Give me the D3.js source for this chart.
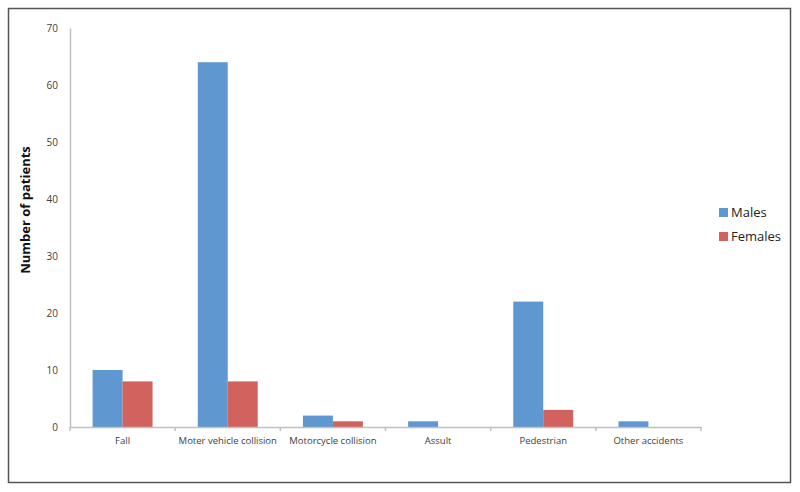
<!DOCTYPE html>
<html>
<head>
<meta charset="utf-8">
<script src="https://cdn.jsdelivr.net/npm/d3@7"></script>
<style>
  body { margin: 0; background: #fff; }
  text { font-family: "Open Sans", "DejaVu Sans", sans-serif; }
</style>
</head>
<body>
<div id="chart"></div>
<script>
var categories = ["Fall", "Moter vehicle collision", "Motorcycle collision", "Assult", "Pedestrian", "Other accidents"];
var series = ["Males", "Females"];
var males = [10, 64, 2, 1, 22, 1];
var females = [8, 8, 1, 0, 3, 0];
var yTicks = [0, 10, 20, 30, 40, 50, 60, 70];
var colors = ["#5f97d0", "#d2625e"];

var svgWidth = 800;
var svgHeight = 492;

var margin = { top: 28, right: 99, bottom: 65, left: 70 };
var width = svgWidth - margin.left - margin.right;
var height = svgHeight - margin.top - margin.bottom;

var svg = d3.select("#chart")
  .append("svg")
  .attr("width", svgWidth)
  .attr("height", svgHeight);

// outer frame
svg.append("rect")
  .attr("x", 8.5).attr("y", 8.5)
  .attr("width", 782).attr("height", 474)
  .attr("fill", "none")
  .attr("stroke", "#555")
  .attr("stroke-width", 1.5);

var chartGroup = svg.append("g")
  .attr("transform", `translate(${margin.left}, ${margin.top})`);

var rows = categories.map(function(c, i) {
  return { cat: c, values: [males[i], females[i]] };
});

var x0 = d3.scaleBand()
  .domain(categories)
  .range([0, width])
  .paddingInner(0.43)
  .paddingOuter(0.215);

var x1 = d3.scaleBand()
  .domain(series)
  .range([0, x0.bandwidth()]);

var y = d3.scaleLinear()
  .domain([0, 70])
  .range([height, 0]);

// bars
var groups = chartGroup.selectAll(".grp")
  .data(rows)
  .enter()
  .append("g")
  .attr("transform", d => `translate(${x0(d.cat)}, 0)`);

groups.selectAll("rect")
  .data(d => d.values.map((v, i) => ({ key: series[i], value: v, i: i })))
  .enter()
  .append("rect")
  .attr("x", d => x1(d.key))
  .attr("y", d => y(d.value))
  .attr("width", x1.bandwidth())
  .attr("height", d => height - y(d.value))
  .attr("fill", d => colors[d.i]);

// y axis
var yAxis = chartGroup.append("g")
  .call(d3.axisLeft(y).tickValues(yTicks).tickSize(0).tickPadding(12));
yAxis.select(".domain").attr("stroke", "#c0c0c0").attr("stroke-width", 1.5);
yAxis.selectAll("text").attr("fill", "#404040").style("font-size", "10px");

// x axis
var xAxis = chartGroup.append("g")
  .attr("transform", `translate(0, ${height})`)
  .call(d3.axisBottom(x0).tickSize(0).tickPadding(10));
xAxis.select(".domain").attr("stroke", "#c0c0c0").attr("stroke-width", 1.5);
xAxis.selectAll("text").attr("fill", "#404040").style("font-size", "9.5px");

// small category boundary ticks
var step = width / categories.length;
chartGroup.selectAll(".bt")
  .data(d3.range(categories.length + 1))
  .enter()
  .append("line")
  .attr("x1", d => d * step).attr("x2", d => d * step)
  .attr("y1", height).attr("y2", height + 4)
  .attr("stroke", "#c0c0c0")
  .attr("stroke-width", 1.5);

// y axis label
svg.append("text")
  .attr("transform", "translate(30, 210) rotate(-90)")
  .attr("text-anchor", "middle")
  .style("font-size", "13px")
  .style("font-weight", "bold")
  .attr("fill", "#111")
  .text("Number of patients");

// legend
var legend = svg.append("g")
  .attr("transform", "translate(719, 208)");

legend.selectAll("rect")
  .data(series)
  .enter()
  .append("rect")
  .attr("x", 0)
  .attr("y", (d, i) => i * 24)
  .attr("width", 9)
  .attr("height", 9)
  .attr("fill", (d, i) => colors[i]);

legend.selectAll("text")
  .data(series)
  .enter()
  .append("text")
  .attr("x", 12)
  .attr("y", (d, i) => i * 24 + 9)
  .style("font-size", "13px")
  .attr("fill", "#222")
  .text(d => d);
</script>
</body>
</html>
